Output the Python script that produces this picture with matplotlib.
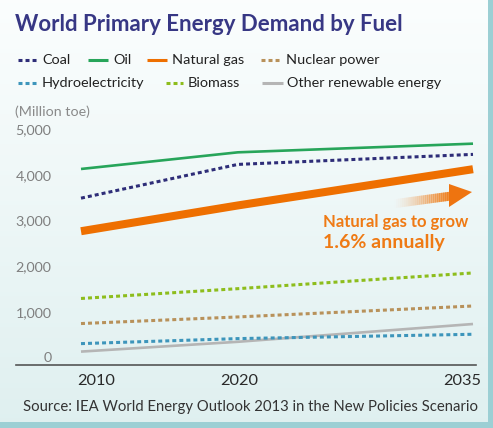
import numpy as np
import matplotlib
matplotlib.use("Agg")
import matplotlib.pyplot as plt
from matplotlib.lines import Line2D
from matplotlib.patches import Polygon
from matplotlib.transforms import ScaledTranslation

# data (million toe)
years = [2010, 2020, 2035]
coal = [3490, 4230, 4450]
oil = [4130, 4495, 4685]
natural_gas = [2765, 3330, 4125]
nuclear = [740, 885, 1125]
hydro = [300, 410, 505]
biomass = [1290, 1505, 1850]
other_renew = [125, 340, 730]

y_ticks = [0, 1000, 2000, 3000, 4000, 5000]
y_labels = ["0", "1,000", "2,000", "3,000", "4,000", "5,000"]

W, H = 493, 428
plt.rcParams['font.family'] = ['Lato', 'DejaVu Sans']

fig = plt.figure(figsize=(W / 100, H / 100), dpi=100)

# background in pixel coords
bg = fig.add_axes([0, 0, 1, 1], zorder=-5)
bg.set_xlim(0, W)
bg.set_ylim(H, 0)
bg.axis('off')
grad = np.linspace(0, 1, 256)[:, None]
top = np.array([0.985, 0.995, 0.995])
bot = np.array([0.875, 0.94, 0.94])
img = top + (bot - top) * grad[:, :, None]
bg.imshow(img, extent=[0, W, H, 0], aspect='auto')
teal = '#9ccfd4'
bg.add_patch(plt.Rectangle((488, 0), W - 488, H, color=teal, lw=0))
bg.add_patch(plt.Rectangle((0, 422), W, H - 422, color=teal, lw=0))

# gradient arrow
orange = '#ee6f00'
x0, y0, x1, y1 = 392, 204, 451, 196
n = 30
for i in range(n):
    a = x0 + (x1 - x0) * i / n
    b = x0 + (x1 - x0) * (i + 1) / n
    ya = y0 + (y1 - y0) * i / n
    yb = y0 + (y1 - y0) * (i + 1) / n
    bg.add_patch(Polygon([(a, ya - 4.5), (b + 0.6, yb - 4.5), (b + 0.6, yb + 4.5), (a, ya + 4.5)],
                         closed=True, color=orange, lw=0, alpha=(i / n) ** 1.5 * 0.85))
bg.add_patch(Polygon([(449, 184), (472, 192), (449, 207)], closed=True, color='#ee7410', lw=0))

# main axes
left, right, ax_top, ax_bot = 16, 476, 120, 365
ax = fig.add_axes([left / W, (H - ax_bot) / H, (right - left) / W, (ax_bot - ax_top) / H])
ax.patch.set_alpha(0)
px_per = 45.6 / 1000
ax.set_ylim(-(ax_bot - 357.3) / px_per, (357.3 - ax_top) / px_per)
ax.set_xlim(2010 - 65 / 15.68, 2035 + 3 / 15.68)

dash = (1.3, 1.0)
ax.plot(years, other_renew, color='#b5b5b5', lw=1.9, solid_capstyle='butt')
ax.plot(years, hydro, color='#3d95bb', lw=2.2, dashes=dash)
ax.plot(years, nuclear, color='#b8915a', lw=2.2, dashes=dash)
ax.plot(years, biomass, color='#8dbd1c', lw=2.2, dashes=dash)
ax.plot(years, natural_gas, color=orange, lw=5.8, solid_capstyle='butt')
ax.plot(years, coal, color='#2e2d78', lw=2.2, dashes=dash)
ax.plot(years, oil, color='#27a55a', lw=1.9, solid_capstyle='butt')

for s in ['left', 'right', 'top']:
    ax.spines[s].set_visible(False)
ax.spines['bottom'].set_color('#555555')
ax.spines['bottom'].set_linewidth(1.2)

ax.set_yticks(y_ticks)
ax.set_yticklabels(y_labels)
ax.tick_params(axis='y', length=0, pad=-25.5, labelsize=10.3, labelcolor='#7f7f7f')
ax.set_xticks(years)
ax.set_xticklabels([str(y) for y in years])
ax.tick_params(axis='x', length=0, pad=6.5, labelsize=11.8, labelcolor='#2a2a2a')
for lab, dx in zip(ax.get_xticklabels(), [15, 1, -11]):
    lab.set_transform(lab.get_transform() + ScaledTranslation(dx / 100, 0, fig.dpi_scale_trans))

# annotation
ax.text(323, 222, "Natural gas to grow", transform=bg.transData, color='#ef7a14',
        fontsize=12, fontweight='bold', va='center', ha='left')
ax.text(323, 242, "1.6% annually", transform=bg.transData, color='#ef7a14',
        fontsize=14, fontweight='bold', va='center', ha='left')

# title, unit, source
bg.text(15, 24, "World Primary Energy Demand by Fuel", color='#373784', fontsize=16,
        fontweight='bold', va='center', ha='left')
bg.text(15, 112, "(Million toe)", color='#8a8a8a', fontsize=10.3, va='center', ha='left')
bg.text(478, 407, "Source: IEA World Energy Outlook 2013 in the New Policies Scenario",
        color='#333333', fontsize=10.7, va='center', ha='right')

# legend (pixel coords)
legend_items = [
    ("Coal", '#2e2d78', True, 18, 38, 42, 60),
    ("Oil", '#27a55a', False, 88, 108, 113, 60),
    ("Natural gas", orange, False, 147, 167, 172, 60),
    ("Nuclear power", '#b8915a', True, 261, 282, 286, 60),
    ("Hydroelectricity", '#3d95bb', True, 18, 38, 42, 83),
    ("Biomass", '#8dbd1c', True, 166, 183, 188, 83),
    ("Other renewable energy", '#b5b5b5', False, 262, 283, 287, 83),
]
for name, col, dotted, xa, xb, xt, yy in legend_items:
    ln = Line2D([xa, xb], [yy, yy], color=col, lw=2.2, solid_capstyle='butt')
    if dotted:
        ln.set_dashes(dash)
    bg.add_line(ln)
    bg.text(xt, yy, name, color='#222222', fontsize=10.4, va='center', ha='left')

fig.savefig("out.png", dpi=100)
